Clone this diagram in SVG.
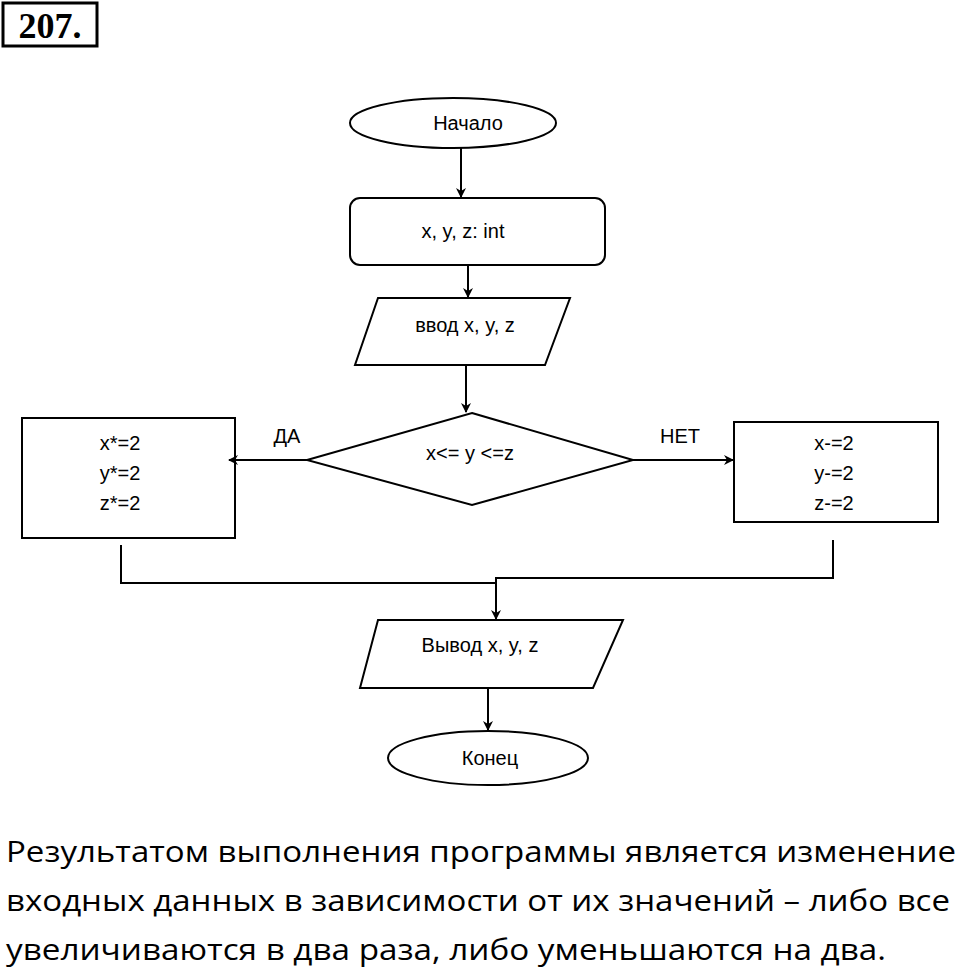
<svg xmlns="http://www.w3.org/2000/svg" width="960" height="974" viewBox="0 0 960 974">
<style>
.s{fill:#fff;stroke:#000;stroke-width:2}
.t{font-family:"Liberation Sans",Arial,sans-serif;font-size:20px;fill:#000;text-anchor:middle}
.c{fill:none;stroke:#000;stroke-width:2}
.b{font-family:"Open Sans","Noto Sans",sans-serif;font-size:29px;fill:#000}
</style>
<defs><marker id="a" markerWidth="10" markerHeight="10" refX="9" refY="5" orient="auto" markerUnits="userSpaceOnUse"><path d="M0,0 L10,5 L0,10 L3,5 Z" fill="#000"/></marker></defs>
<rect x="3" y="3" width="94" height="43" fill="#fff" stroke="#000" stroke-width="3"/>
<text x="50" y="38" font-family="Liberation Serif,serif" font-weight="bold" font-size="36" text-anchor="middle">207.</text>
<g id="start"><ellipse class="s" cx="453" cy="123" rx="103" ry="25"/><text class="t" x="468" y="130" font-size="18">Начало</text></g>
<g id="decl"><rect class="s" x="350" y="198" width="255" height="67" rx="10"/><text class="t" x="463" y="238">x, y, z: int</text></g>
<g id="input"><polygon class="s" points="378,298 570,298 545,365 355,365"/><text class="t" x="465" y="332">ввод x, y, z</text></g>
<g id="cond"><polygon class="s" points="472,413 633,460 472,505 307,460"/><text class="t" x="470" y="460">x&lt;= y &lt;=z</text></g>
<g id="yes"><rect class="s" x="22" y="418" width="213" height="120"/><text class="t" x="120" y="450">x*=2</text><text class="t" x="120" y="480">y*=2</text><text class="t" x="120" y="510">z*=2</text></g>
<g id="no"><rect class="s" x="734" y="422" width="204" height="100"/><text class="t" x="834" y="450">x-=2</text><text class="t" x="834" y="480">y-=2</text><text class="t" x="834" y="510">z-=2</text></g>
<g id="output"><polygon class="s" points="378,620 623,620 593,688 360,688"/><text class="t" x="480" y="652">Вывод x, y, z</text></g>
<g id="end"><ellipse class="s" cx="488" cy="758" rx="100" ry="27"/><text class="t" x="490" y="765" font-size="18">Конец</text></g>
<g id="connectors">
<line class="c" x1="461" y1="148" x2="461" y2="197" marker-end="url(#a)"/>
<line class="c" x1="468" y1="265" x2="468" y2="297" marker-end="url(#a)"/>
<line class="c" x1="466" y1="365" x2="466" y2="412" marker-end="url(#a)"/>
<line class="c" x1="307" y1="460" x2="229" y2="460" marker-end="url(#a)"/>
<line class="c" x1="633" y1="460" x2="733" y2="460" marker-end="url(#a)"/>
<polyline class="c" points="121,545 121,583 496,583"/>
<polyline class="c" points="833,540 833,578 496,578 496,619" marker-end="url(#a)"/>
<line class="c" x1="488" y1="688" x2="488" y2="730" marker-end="url(#a)"/>
<text class="t" x="287" y="443" font-size="17">ДА</text>
<text class="t" x="680" y="443" font-size="17">НЕТ</text>
</g>
<text class="b" x="6" y="862" textLength="950" lengthAdjust="spacingAndGlyphs">Результатом выполнения программы является изменение</text>
<text class="b" x="6" y="911" textLength="944" lengthAdjust="spacingAndGlyphs">входных данных в зависимости от их значений – либо все</text>
<text class="b" x="6" y="960" textLength="880" lengthAdjust="spacingAndGlyphs">увеличиваются в два раза, либо уменьшаются на два.</text>
</svg>
